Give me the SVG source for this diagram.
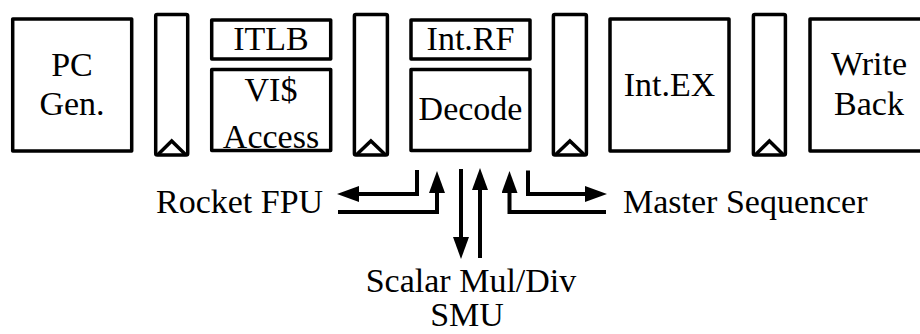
<svg xmlns="http://www.w3.org/2000/svg" width="920" height="334" viewBox="0 0 920 334">
  <style>
    .box { fill: #ffffff; stroke: #000000; stroke-width: 3.5; stroke-linejoin: round; }
    .latch { fill: #ffffff; stroke: #000000; stroke-width: 3.5; stroke-linejoin: round; }
    .clk { fill: none; stroke: #000000; stroke-width: 3.5; stroke-linejoin: miter; }
    .lbl { font-family: "Liberation Serif", "Times New Roman", serif; font-size: 34px; fill: #000000; }
    .mid { text-anchor: middle; }
    .wire { fill: none; stroke: #000000; stroke-width: 4; stroke-linejoin: miter; }
  </style>
  <defs>
    <marker id="head" markerUnits="userSpaceOnUse" markerWidth="22" markerHeight="16" refX="2" refY="8" orient="auto">
      <path d="M0,0 L22,8 L0,16 Z" fill="#000000"/>
    </marker>
  </defs>

  <rect width="920" height="334" fill="#ffffff"/>

  <!-- pipeline stages -->
  <g id="pc-gen">
    <rect class="box" x="12.7" y="19" width="119" height="132"/>
    <text class="lbl mid" x="72" y="76">PC</text>
    <text class="lbl mid" x="72" y="115">Gen.</text>
  </g>

  <g id="latch-1">
    <rect class="latch" x="155.7" y="14.4" width="32" height="140.6" rx="1.5"/>
    <path class="clk" d="M157.5,155 L171.7,141 L186,155"/>
  </g>

  <g id="itlb">
    <rect class="box" x="211.7" y="20" width="119" height="39"/>
    <text class="lbl mid" x="271" y="50">ITLB</text>
  </g>

  <g id="vi-access">
    <rect class="box" x="211.7" y="69.4" width="119" height="81.2"/>
    <text class="lbl mid" x="271" y="101">VI$</text>
    <text class="lbl mid" x="271" y="148">Access</text>
  </g>

  <g id="latch-2">
    <rect class="latch" x="354.4" y="14.4" width="33" height="140.6" rx="1.5"/>
    <path class="clk" d="M356.2,155 L370.9,141 L385.6,155"/>
  </g>

  <g id="int-rf">
    <rect class="box" x="411" y="20" width="119" height="39"/>
    <text class="lbl mid" x="470.5" y="50">Int.RF</text>
  </g>

  <g id="decode">
    <rect class="box" x="411" y="69.4" width="119" height="81.2"/>
    <text class="lbl mid" x="470.5" y="120">Decode</text>
  </g>

  <g id="latch-3">
    <rect class="latch" x="553.4" y="14.4" width="33" height="140.6" rx="1.5"/>
    <path class="clk" d="M555.2,155 L569.9,141 L584.6,155"/>
  </g>

  <g id="int-ex">
    <rect class="box" x="610" y="19" width="119" height="132"/>
    <text class="lbl mid" x="669.5" y="96">Int.EX</text>
  </g>

  <g id="latch-4">
    <rect class="latch" x="753.4" y="14.4" width="32" height="140.6" rx="1.5"/>
    <path class="clk" d="M755.2,155 L769.4,141 L783.6,155"/>
  </g>

  <g id="write-back">
    <rect class="box" x="810" y="19" width="119" height="132"/>
    <text class="lbl mid" x="869" y="75">Write</text>
    <text class="lbl mid" x="869" y="115">Back</text>
  </g>

  <!-- external units -->
  <g id="rocket-fpu">
    <text class="lbl" x="156" y="213">Rocket FPU</text>
  </g>

  <g id="master-sequencer">
    <text class="lbl" x="623" y="213">Master Sequencer</text>
  </g>

  <g id="smu">
    <text class="lbl mid" x="471" y="292">Scalar Mul/Div</text>
    <text class="lbl mid" x="467" y="326">SMU</text>
  </g>

  <!-- connectors -->
  <g id="connectors">
    <path class="wire" d="M417,170 V194 H357" marker-end="url(#head)"/>
    <path class="wire" d="M338,212 H437 V191" marker-end="url(#head)"/>
    <path class="wire" d="M461,169 V239" marker-end="url(#head)"/>
    <path class="wire" d="M480,258 V188" marker-end="url(#head)"/>
    <path class="wire" d="M606,212 H509.5 V191" marker-end="url(#head)"/>
    <path class="wire" d="M528,170.5 V194 H587" marker-end="url(#head)"/>
  </g>
</svg>
